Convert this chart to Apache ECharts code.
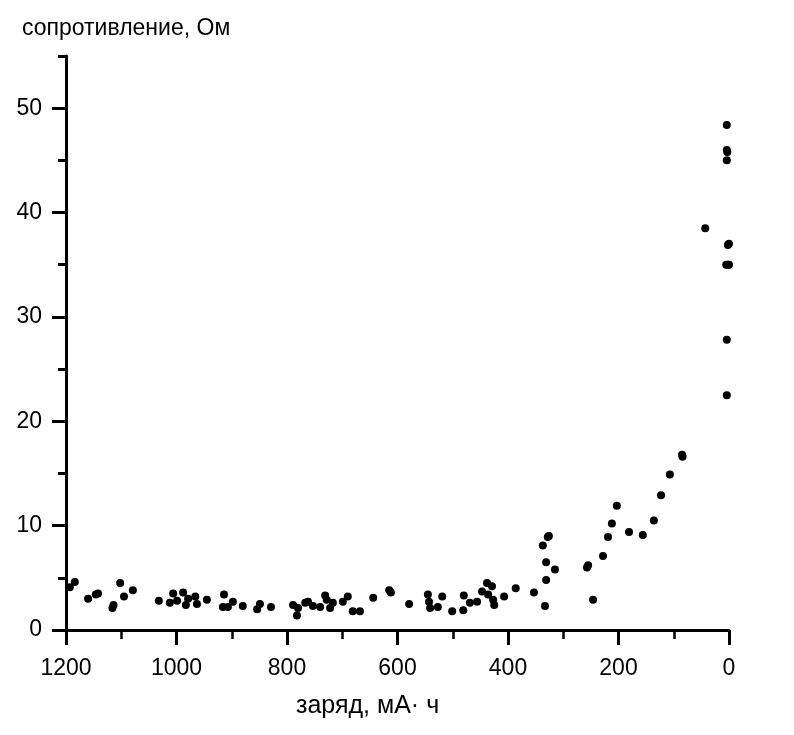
<!DOCTYPE html>
<html>
<head>
<meta charset="utf-8">
<script src="https://cdn.jsdelivr.net/npm/echarts@6/dist/echarts.min.js"></script>
<style>
html,body{margin:0;padding:0;background:#fff;}
#chart{width:794px;height:735px;}
</style>
</head>
<body>
<div id="chart"></div>
<script>
// charge (mA·h) values of each point
const charge = [1193,1184,1160,1146,1142,1116,1114,1102,1095,1079,
  1032,1012,1006,999,988,983,979,966,963,945,
  914,916,907,898,880,854,849,829,789,782,780,767,762,753,740,731,728,722,717,
  699,690,681,668,644,615,612,579,545,543,541,527,519,501,481,480,469,456,447,438,429,436,427,425,407,386,353,
  337,328,326,331,315,331,333,
  257,255,246,228,219,212,203,181,156,136,123,107,85,84,
  43,4,4,3,4,2,0,5,2,0,4,4];
// resistance (Ohm) values of each point
const resistance = [4.1,4.6,3.0,3.4,3.5,2.1,2.4,4.5,3.2,3.8,
  2.8,2.6,3.5,2.8,3.6,2.4,3.0,3.2,2.5,2.9,
  3.4,2.2,2.2,2.7,2.3,2.0,2.5,2.2,2.4,1.4,2.1,2.6,2.7,2.3,2.2,3.3,2.9,2.1,2.6,
  2.7,3.2,1.8,1.8,3.1,3.8,3.6,2.5,3.4,2.7,2.1,2.2,3.2,1.8,1.9,3.3,2.6,2.7,3.7,4.5,4.2,3.4,2.9,2.4,3.2,4.0,3.6,
  8.1,8.9,9.0,6.5,5.8,4.8,2.3,
  6.0,6.2,2.9,7.1,8.9,10.2,11.9,9.4,9.1,10.5,12.9,14.9,16.8,16.6,
  38.5,48.4,46.0,45.8,45.0,36.9,37.0,35.0,35.0,35.0,27.8,22.5];
const yMajorTicks = [0,10,20,30,40,50];
const yMinorTicks = [5,15,25,35,45,55];
const xMin = 0, xMax = 1200, xInterval = 200;
const yMin = 0, yMax = 55;
const yTitle = 'сопротивление, Ом';
const xTitle = 'заряд, мА· ч';

const points = charge.map((c,i)=>[c, resistance[i]]);
const FONT = 'Liberation Sans, Arial, sans-serif';
const GRID = {left:66,right:65,top:56,bottom:105,containLabel:false};
const chart = echarts.init(document.getElementById('chart'), null, {renderer:'canvas'});
chart.setOption({
  animation:false,
  backgroundColor:'#fff',
  title:[
    {text:yTitle, left:17, top:12, textStyle:{fontFamily:FONT,fontSize:23,fontWeight:'normal',color:'#000'}},
    {text:xTitle, left:291, top:689, textStyle:{fontFamily:FONT,fontSize:25,fontWeight:'normal',color:'#000'}}
  ],
  grid:[Object.assign({},GRID), Object.assign({},GRID)],
  xAxis:[{
    gridIndex:0,
    type:'value', inverse:true, min:xMin, max:xMax, interval:xInterval,
    splitLine:{show:false},
    axisLine:{onZero:false, lineStyle:{color:'#000',width:3}},
    axisTick:{length:15, lineStyle:{color:'#000',width:3}},
    minorTick:{show:true, splitNumber:2, length:9, lineStyle:{color:'#000',width:2.5}},
    axisLabel:{margin:27, color:'#000', fontFamily:FONT, fontSize:23, formatter:(v)=>String(v)}
  },{
    gridIndex:1,
    type:'value', inverse:true, min:xMin, max:xMax, show:false
  }],
  yAxis:[
    {
      gridIndex:0,
      type:'value', min:yMin, max:yMax, position:'left',
      splitLine:{show:false},
      axisLine:{show:true, onZero:false, lineStyle:{color:'#000',width:3}},
      axisTick:{show:true, length:14, customValues:yMajorTicks, lineStyle:{color:'#000',width:3}},
      axisLabel:{margin:24, customValues:yMajorTicks, color:'#000', fontFamily:FONT, fontSize:23, formatter:(v)=>String(v)}
    },
    {
      gridIndex:1,
      type:'value', min:yMin, max:yMax, position:'left',
      splitLine:{show:false},
      axisLine:{show:false, onZero:false},
      axisTick:{show:true, length:8, customValues:yMinorTicks, lineStyle:{color:'#000',width:3}},
      axisLabel:{show:false}
    }
  ],
  series:[{
    type:'scatter', xAxisIndex:0, yAxisIndex:0, data:points, symbol:'circle', symbolSize:8,
    itemStyle:{color:'#000', opacity:1}, clip:false
  }]
});
</script>
</body>
</html>
